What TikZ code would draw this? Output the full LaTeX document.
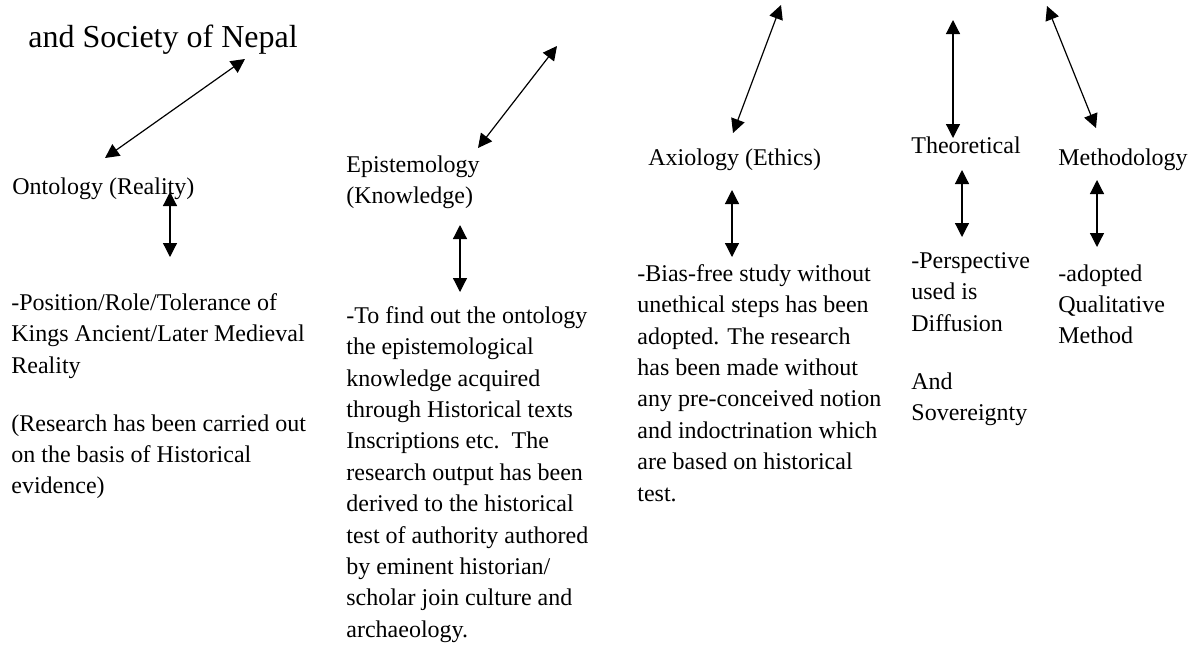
\documentclass[tikz,border=0pt]{standalone}
\usepackage{fontspec}
\setmainfont{Liberation Serif}
\usetikzlibrary{arrows.meta}
\begin{document}
\begin{tikzpicture}[x=0.5pt,y=-0.5pt,
		txt/.style={anchor=north west, yshift=11pt, inner sep=0pt, align=left, font=\fontsize{12pt}{15.7pt}\selectfont, execute at begin node=\strut},
		both/.style={{Triangle[length=7pt,width=7pt]}-{Triangle[length=7pt,width=7pt]}, line width=0.6pt}]
			\useasboundingbox (0,0) rectangle (1200,644);
			% heading left over from the top
			\node[anchor=base west, inner sep=0pt, font=\fontsize{16pt}{19pt}\selectfont] (title) at (28,47) {and Society of Nepal};
			% the five headings
			\node[txt] (ont) at (12,194) {Ontology (Reality)};
			\node[txt] (epi) at (346,177) {Epistemology\\(Knowledge)};
			\node[txt] (axi) at (648,165) {Axiology (Ethics)};
			\node[txt] (theo) at (911,153) {Theoretical};
			\node[txt] (meth) at (1058,165) {Methodology};
			% the texts below them
			\node[txt] (ontbody) at (11,315) {-Position/Role/Tolerance of\\Kings Ancient/Later Medieval\\Reality\\[13.3pt](Research has been carried out\\on the basis of Historical\\evidence)};
			\node[txt] (epibody) at (346,328) {-To find out the ontology\\the epistemological\\knowledge acquired\\through Historical texts\\Inscriptions etc.\ \ The\\research output has been\\derived to the historical\\test of authority authored\\by eminent historian/\\scholar join culture and\\archaeology.};
			\node[txt] (axibody) at (637,286) {-Bias-free study without\\unethical steps has been\\adopted. The research\\has been made without\\any pre-conceived notion\\and indoctrination which\\are based on historical\\test.};
			\node[txt] (theobody) at (911,274) {-Perspective\\used is\\Diffusion\\[13.3pt]And\\Sovereignty};
			\node[txt] (methbody) at (1058,286) {-adopted\\Qualitative\\Method};
			% arrow ends
			\coordinate (ont-a) at (105,158);
			\coordinate (ont-b) at (245,59);
			\coordinate (epi-a) at (478,148);
			\coordinate (epi-b) at (557,46);
			\coordinate (axi-a) at (733,133);
			\coordinate (axi-b) at (781,5);
			\coordinate (theo-a) at (953,138);
			\coordinate (theo-b) at (953,20);
			\coordinate (meth-a) at (1096,128);
			\coordinate (meth-b) at (1047,6);
			\coordinate (ont-c) at (170,192);
			\coordinate (ont-d) at (170,257);
			\coordinate (epi-c) at (460,225);
			\coordinate (epi-d) at (460,292);
			\coordinate (axi-c) at (732,190);
			\coordinate (axi-d) at (732,257);
			\coordinate (theo-c) at (962,170);
			\coordinate (theo-d) at (962,237);
			\coordinate (meth-c) at (1097,180);
			\coordinate (meth-d) at (1097,247);
			\draw[both] (ont-a) -- (ont-b);
			\draw[both] (epi-a) -- (epi-b);
			\draw[both] (axi-a) -- (axi-b);
			\draw[both] (theo-a) -- (theo-b);
			\draw[both] (meth-a) -- (meth-b);
			\draw[both] (ont-c) -- (ont-d);
			\draw[both] (epi-c) -- (epi-d);
			\draw[both] (axi-c) -- (axi-d);
			\draw[both] (theo-c) -- (theo-d);
			\draw[both] (meth-c) -- (meth-d);
		\end{tikzpicture}
\end{document}
